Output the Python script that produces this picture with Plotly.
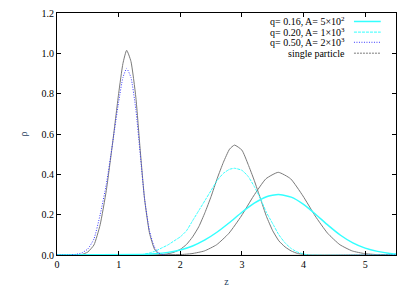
import plotly.graph_objects as go

# q=0.16, A=5e2 (cyan solid)
z_q016 = [0.0, 1.4, 1.6, 1.8, 2.0, 2.2, 2.4, 2.6, 2.8, 3.0, 3.2, 3.4, 3.59, 3.8, 4.0, 4.2, 4.4, 4.6, 4.8, 5.0, 5.2, 5.4, 5.5]
r_q016 = [0.0, 0.003, 0.006, 0.013, 0.025, 0.045, 0.075, 0.114, 0.161, 0.212, 0.257, 0.289, 0.300, 0.287, 0.251, 0.201, 0.147, 0.098, 0.060, 0.034, 0.018, 0.008, 0.005]

# q=0.20, A=1e3 (cyan dashed)
z_q020 = [0.0, 1.3, 1.4, 1.5, 1.6, 1.7, 1.8, 1.9, 2.0, 2.1, 2.2, 2.3, 2.4, 2.5, 2.6, 2.7, 2.8, 2.88, 3.0, 3.1, 3.2, 3.3, 3.4, 3.5, 3.6, 3.7, 3.8, 3.9, 4.0, 4.1, 5.5]
r_q020 = [0.0, 0.0, 0.003, 0.01, 0.02, 0.035, 0.05, 0.07, 0.09, 0.12, 0.17, 0.22, 0.27, 0.32, 0.37, 0.405, 0.425, 0.43, 0.42, 0.39, 0.34, 0.28, 0.21, 0.155, 0.10, 0.06, 0.032, 0.015, 0.005, 0.0, 0.0]

# q=0.50, A=2e3 (blue dotted)
z_q050 = [0.0, 0.2, 0.3, 0.4, 0.5, 0.6, 0.7, 0.8, 0.9, 1.0, 1.07, 1.13, 1.2, 1.28, 1.35, 1.42, 1.5, 1.58, 1.65, 1.75, 5.5]
r_q050 = [0.0, 0.0, 0.003, 0.01, 0.03, 0.08, 0.20, 0.35, 0.55, 0.76, 0.88, 0.925, 0.88, 0.72, 0.50, 0.28, 0.12, 0.04, 0.01, 0.0, 0.0]

# single particle curves (grey)
z_sp1 = [0.0, 0.3, 0.4, 0.5, 0.6, 0.7, 0.8, 0.9, 1.0, 1.07, 1.13, 1.2, 1.28, 1.35, 1.42, 1.5, 1.58, 1.65, 1.75, 5.5]
r_sp1 = [0.0, 0.0, 0.002, 0.015, 0.05, 0.15, 0.32, 0.55, 0.80, 0.95, 1.015, 0.96, 0.78, 0.52, 0.28, 0.11, 0.03, 0.005, 0.0, 0.0]

z_sp2 = [0.0, 1.6, 1.7, 1.8, 1.9, 2.0, 2.1, 2.2, 2.3, 2.4, 2.5, 2.6, 2.7, 2.8, 2.88, 3.0, 3.1, 3.2, 3.3, 3.4, 3.5, 3.6, 3.7, 3.8, 3.9, 4.0, 4.1, 5.5]
r_sp2 = [0.0, 0.0, 0.002, 0.006, 0.014, 0.028, 0.052, 0.09, 0.14, 0.21, 0.29, 0.38, 0.46, 0.525, 0.545, 0.52, 0.45, 0.37, 0.28, 0.19, 0.12, 0.07, 0.04, 0.02, 0.008, 0.003, 0.0, 0.0]

z_sp3 = [0.0, 1.99, 2.19, 2.39, 2.59, 2.79, 2.99, 3.19, 3.39, 3.59, 3.79, 3.99, 4.19, 4.39, 4.59, 4.79, 4.99, 5.19, 5.5]
r_sp3 = [0.0, 0.002, 0.007, 0.020, 0.051, 0.108, 0.193, 0.293, 0.378, 0.410, 0.378, 0.293, 0.193, 0.108, 0.051, 0.020, 0.007, 0.002, 0.0]

legend_labels = ["q= 0.16, A= 5×10<sup>2</sup>", "q= 0.20, A= 1×10<sup>3</sup>",
                 "q= 0.50, A= 2×10<sup>3</sup>", "single particle"]
x_ticks = [0, 1, 2, 3, 4, 5]
y_ticks = [0.0, 0.2, 0.4, 0.6, 0.8, 1.0, 1.2]

CYAN = "#33ffff"
BLUE = "#3a3aff"
GREY = "#7a7a7a"
FONT = "Liberation Serif"

fig = go.Figure()
for z, r in [(z_sp1, r_sp1), (z_sp2, r_sp2), (z_sp3, r_sp3)]:
    fig.add_trace(go.Scatter(x=z, y=r, mode="lines", line=dict(color=GREY, width=1, shape="spline", smoothing=0.5), showlegend=False))
fig.add_trace(go.Scatter(x=z_q016, y=r_q016, mode="lines", line=dict(color=CYAN, width=1.5, shape="spline", smoothing=0.5), showlegend=False))
fig.add_trace(go.Scatter(x=z_q020, y=r_q020, mode="lines", line=dict(color=CYAN, width=1, dash="3px,1px", shape="spline", smoothing=0.5), showlegend=False))
fig.add_trace(go.Scatter(x=z_q050, y=r_q050, mode="lines", line=dict(color=BLUE, width=1, dash="1px,1.5px", shape="spline", smoothing=0.5), showlegend=False))

# custom legend (text right-aligned, sample to the right), gnuplot style
styles = [dict(color=CYAN, width=1.5), dict(color=CYAN, width=1, dash="3px,1px"),
          dict(color=BLUE, width=1, dash="1px,1.5px"), dict(color=GREY, width=1, dash="2px,1px")]
ys = [0.965, 0.921, 0.879, 0.834]
for lab, st, yy in zip(legend_labels, styles, ys):
    fig.add_annotation(xref="paper", yref="paper", x=0.855, y=yy, text=lab, showarrow=False,
                       xanchor="right", yanchor="middle", font=dict(family=FONT, size=10, color="black"))
    fig.add_shape(type="line", xref="paper", yref="paper", x0=0.876, x1=0.955, y0=yy, y1=yy, line=st)

axis_common = dict(showline=True, linecolor="black", linewidth=1, mirror="allticks", ticks="inside",
                   ticklen=4, tickcolor="black", showgrid=False, zeroline=False, automargin=False,
                   ticklabeloverflow="allow", tickfont=dict(family=FONT, size=10, color="black"))
fig.update_xaxes(range=[0, 5.5], tickvals=x_ticks, ticktext=[str(v) for v in x_ticks],
                 title=dict(text="z", font=dict(family=FONT, size=10), standoff=8), **axis_common)
fig.update_yaxes(range=[0, 1.2], tickvals=y_ticks, ticktext=[f"{v:.1f}" for v in y_ticks],
                 title=dict(text="ρ", font=dict(family=FONT, size=10), standoff=12), **axis_common)
fig.update_layout(width=403, height=280, margin=dict(l=49, r=15, t=5, b=33),
                  plot_bgcolor="white", paper_bgcolor="white", showlegend=False,
                  font=dict(family=FONT))
fig.write_html("out.html")
